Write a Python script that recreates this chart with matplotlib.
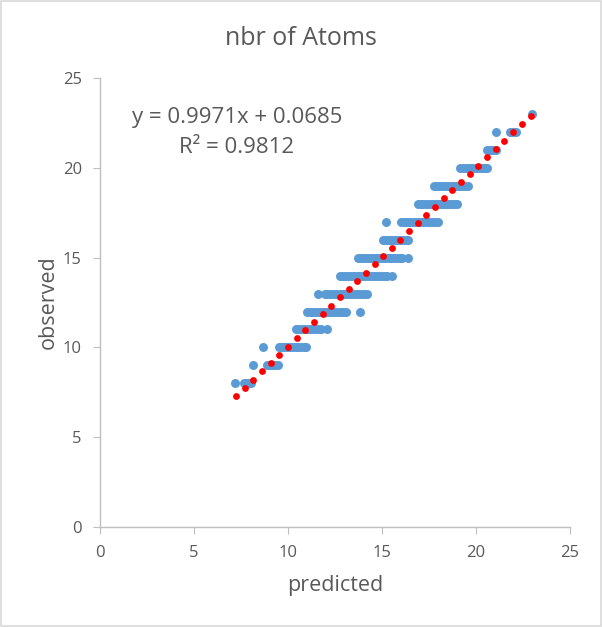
import matplotlib.pyplot as plt

# observed (integer) vs predicted values
rows = {
    8: [7.2, 7.65, 7.75, 7.85, 7.95, 8.05],
    9: [8.15, 8.9, 9.0, 9.1, 9.2, 9.3, 9.45],
    10: [8.65, 9.5, 9.65, 9.8, 9.95, 10.1, 10.25, 10.4, 10.55, 10.7, 10.85, 10.97],
    11: [10.4, 10.55, 10.7, 10.85, 11.0, 11.15, 11.3, 11.45, 11.6, 11.75, 12.1],
    12: [11.0, 11.15, 11.3, 11.45, 11.6, 11.75, 11.9, 12.05, 12.2, 12.35, 12.5,
         12.65, 12.8, 12.95, 13.1, 13.83],
    13: [11.6, 11.95, 12.1, 12.25, 12.4, 12.55, 12.7, 12.85, 13.0, 13.15, 13.3,
         13.45, 13.6, 13.75, 13.9, 14.05, 14.2],
    14: [12.77, 12.9, 13.05, 13.2, 13.35, 13.5, 13.65, 13.8, 13.95, 14.1, 14.25,
         14.4, 14.55, 14.7, 14.85, 15.0, 15.15, 15.25, 15.53],
    15: [13.7, 13.85, 14.0, 14.15, 14.3, 14.45, 14.6, 14.75, 14.9, 15.05, 15.2,
         15.35, 15.5, 15.65, 15.8, 15.95, 16.06, 16.4],
    16: [15.05, 15.2, 15.35, 15.5, 15.65, 15.8, 15.95, 16.1, 16.25, 16.4],
    17: [15.2, 16.0, 16.15, 16.3, 16.45, 16.6, 16.75, 16.9, 17.05, 17.2, 17.35,
         17.5, 17.65, 17.8, 17.95],
    18: [16.9, 17.05, 17.2, 17.35, 17.5, 17.65, 17.8, 17.95, 18.1, 18.25, 18.4,
         18.55, 18.7, 18.85, 19.0],
    19: [17.75, 17.9, 18.05, 18.2, 18.35, 18.5, 18.65, 18.8, 18.95, 19.1, 19.25,
         19.4, 19.55],
    20: [19.15, 19.3, 19.45, 19.6, 19.75, 19.9, 20.05, 20.2, 20.35, 20.5, 20.6],
    21: [20.6, 20.75, 20.9, 21.05],
    22: [21.06, 21.8, 21.95, 22.1],
    23: [22.95],
}

# trendline points (red)
trend_x = [7.25, 7.7, 8.16, 8.62, 9.08, 9.54, 10.0, 10.46, 10.92, 11.38, 11.84,
           12.3, 12.76, 13.22, 13.68, 14.14, 14.6, 15.06, 15.52, 15.98, 16.44,
           16.9, 17.36, 17.82, 18.28, 18.74, 19.2, 19.66, 20.12, 20.58, 21.04,
           21.5, 21.96, 22.42, 22.9]
trend_y = [7.3, 7.75, 8.2, 8.66, 9.12, 9.58, 10.04, 10.5, 10.96, 11.42, 11.87,
           12.33, 12.79, 13.25, 13.71, 14.17, 14.63, 15.08, 15.54, 16.0, 16.46,
           16.92, 17.38, 17.84, 18.3, 18.75, 19.21, 19.67, 20.13, 20.59, 21.05,
           21.51, 21.97, 22.42, 22.9]

ticks = [0, 5, 10, 15, 20, 25]

gray = '#595959'
axis_col = '#BFBFBF'

plt.rcParams['font.family'] = ['Open Sans', 'DejaVu Sans']

fig = plt.figure(figsize=(6.02, 6.27), dpi=100)
ax = fig.add_axes([0.166, 0.1595, 0.781, 0.716])

# figure border
fig.patches.append(plt.Rectangle((0.001, 0.001), 0.997, 0.997, transform=fig.transFigure,
                                 fill=False, edgecolor='#D9D9D9', linewidth=1.2))

xs = []
ys = []
for obs, preds in rows.items():
    for p in preds:
        xs.append(p)
        ys.append(obs)
ax.scatter(xs, ys, s=42, color='#5B9BD5', linewidths=0, zorder=2)
ax.scatter(trend_x, trend_y, s=24, color='#FF0000', linewidths=0, zorder=3)

ax.set_xlim(0, 25)
ax.set_ylim(0, 25)
ax.set_xticks(ticks)
ax.set_yticks(ticks)
for s in ['top', 'right']:
    ax.spines[s].set_visible(False)
for s in ['left', 'bottom']:
    ax.spines[s].set_color(axis_col)
    ax.spines[s].set_linewidth(1.0)
ax.tick_params(colors=axis_col, labelcolor=gray, labelsize=12, length=5, direction='out')
ax.tick_params(axis='x', pad=8)
ax.tick_params(axis='y', pad=8)

fig.text(0.5, 0.939, 'nbr of Atoms', ha='center', va='center', fontsize=18, color=gray)
ax.set_xlabel('predicted', fontsize=15.5, color=gray, labelpad=10)
ax.set_ylabel('observed', fontsize=15.5, color=gray, labelpad=3)

ax.text(0.291, 0.913, 'y = 0.9971x + 0.0685', transform=ax.transAxes, ha='center',
        va='center', fontsize=16, color=gray)
ax.text(0.291, 0.846, 'R² = 0.9812', transform=ax.transAxes, ha='center',
        va='center', fontsize=16, color=gray)

plt.savefig('out.png', dpi=100)
plt.close()
